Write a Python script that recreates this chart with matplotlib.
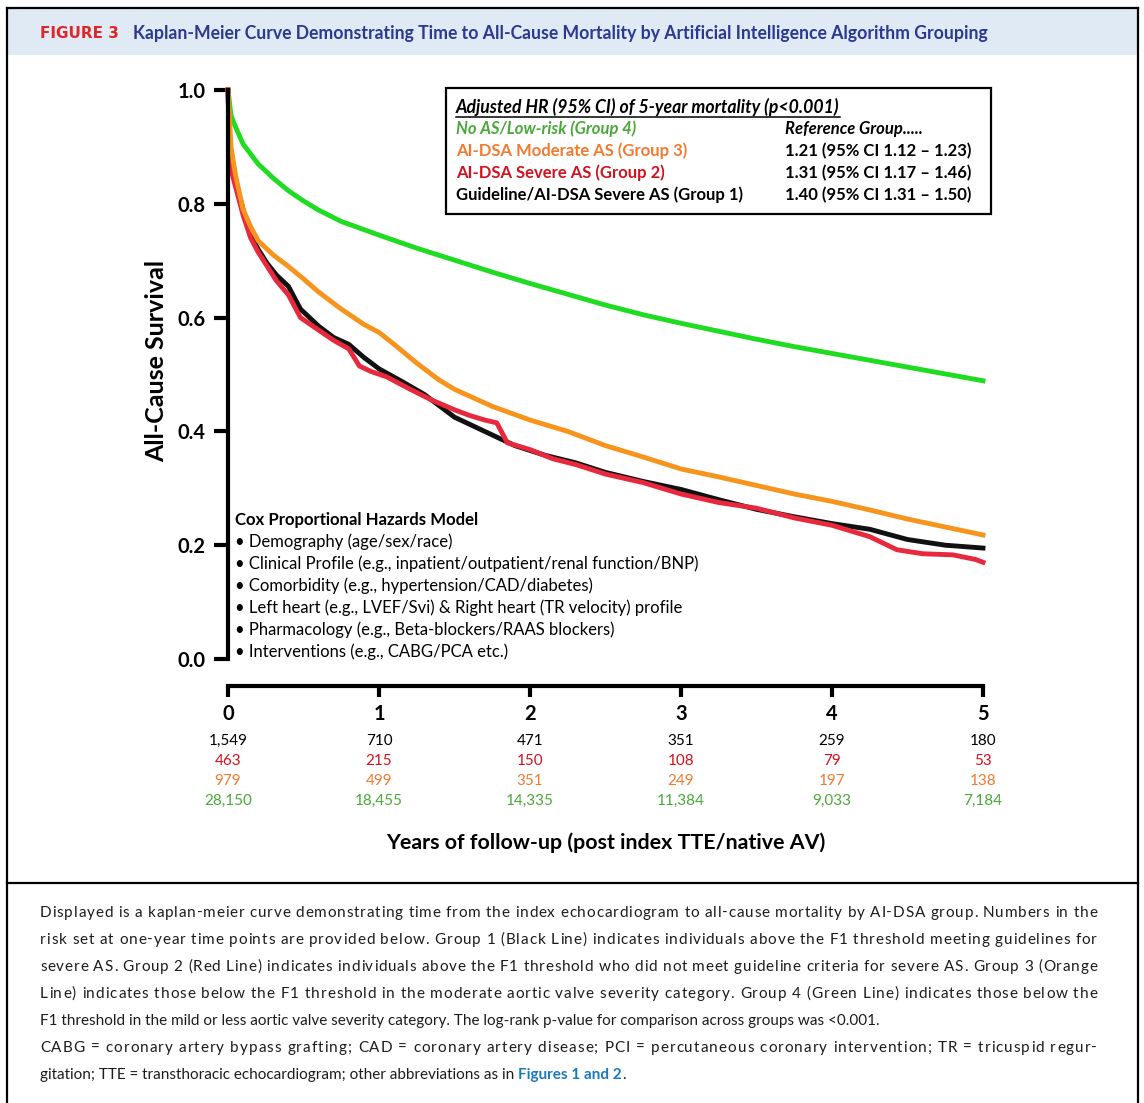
import matplotlib
matplotlib.use("Agg")
from matplotlib import pyplot as plt
from matplotlib.lines import Line2D
from matplotlib.patches import Rectangle
from matplotlib.transforms import blended_transform_factory

W, H = 1144, 1103

# survival curves
green_t = [0, 0.02, 0.05, 0.1, 0.2, 0.3, 0.4, 0.5, 0.6, 0.75, 1.0, 1.25, 1.5, 1.75, 2.0,
           2.25, 2.5, 2.75, 3.0, 3.25, 3.5, 3.75, 4.0, 4.25, 4.5, 4.75, 5.0]
green_s = [1.0, 0.955, 0.935, 0.905, 0.87, 0.845, 0.823, 0.805, 0.789, 0.769, 0.745, 0.722,
           0.701, 0.680, 0.660, 0.641, 0.622, 0.605, 0.590, 0.576, 0.562, 0.549, 0.537,
           0.525, 0.513, 0.501, 0.489]

orange_t = [0, 0.02, 0.05, 0.1, 0.15, 0.2, 0.3, 0.4, 0.5, 0.6, 0.75, 0.9, 1.0, 1.1,
            1.25, 1.4, 1.5, 1.75, 2.0, 2.25, 2.5, 2.75, 3.0, 3.25, 3.5, 3.75, 4.0, 4.25,
            4.5, 4.75, 5.0]
orange_s = [1.0, 0.90, 0.85, 0.79, 0.76, 0.735, 0.71, 0.69, 0.668, 0.645, 0.615, 0.588,
            0.574, 0.553, 0.52, 0.49, 0.474, 0.444, 0.42, 0.40, 0.375, 0.355, 0.334, 0.32,
            0.305, 0.29, 0.277, 0.262, 0.246, 0.232, 0.218]

black_t = [0, 0.01, 0.03, 0.06, 0.1, 0.15, 0.2, 0.26, 0.32, 0.4, 0.48, 0.6, 0.7, 0.8,
           0.9, 1.0, 1.15, 1.3, 1.5, 1.7, 1.9, 2.1, 2.3, 2.5, 2.75, 3.0, 3.25, 3.5, 3.75,
           4.0, 4.25, 4.5, 4.75, 5.0]
black_s = [1.0, 0.90, 0.86, 0.83, 0.79, 0.745, 0.72, 0.695, 0.675, 0.655, 0.615, 0.585,
           0.565, 0.553, 0.53, 0.51, 0.488, 0.465, 0.425, 0.40, 0.375, 0.358, 0.345, 0.328,
           0.312, 0.298, 0.28, 0.263, 0.25, 0.238, 0.228, 0.21, 0.2, 0.195]

red_t = [0, 0.01, 0.03, 0.06, 0.1, 0.15, 0.2, 0.26, 0.32, 0.4, 0.48, 0.6, 0.7, 0.8, 0.87,
         0.95, 1.05, 1.2, 1.35, 1.5, 1.6, 1.7, 1.78, 1.85, 2.0, 2.15, 2.3, 2.5, 2.75, 3.0,
         3.25, 3.5, 3.75, 4.0, 4.25, 4.43, 4.6, 4.8, 4.95, 5.0]
red_s = [1.0, 0.89, 0.85, 0.82, 0.78, 0.74, 0.715, 0.69, 0.665, 0.64, 0.60, 0.578, 0.56,
         0.545, 0.515, 0.505, 0.496, 0.475, 0.455, 0.438, 0.428, 0.42, 0.415, 0.38, 0.368,
         0.352, 0.342, 0.325, 0.31, 0.29, 0.275, 0.265, 0.248, 0.235, 0.215, 0.192, 0.185,
         0.183, 0.175, 0.17]

# numbers at risk
years = [0, 1, 2, 3, 4, 5]
risk_black = ['1,549', '710', '471', '351', '259', '180']
risk_red = ['463', '215', '150', '108', '79', '53']
risk_orange = ['979', '499', '351', '249', '197', '138']
risk_green = ['28,150', '18,455', '14,335', '11,384', '9,033', '7,184']

hr_labels = ['No AS/Low-risk (Group 4)', 'AI-DSA Moderate AS (Group 3)',
             'AI-DSA Severe AS (Group 2)', 'Guideline/AI-DSA Severe AS (Group 1)']
hr_values = ['Reference Group.....', '1.21 (95% CI 1.12 \u2013 1.23)',
             '1.31 (95% CI 1.17 \u2013 1.46)', '1.40 (95% CI 1.31 \u2013 1.50)']

cox_items = ['Demography (age/sex/race)',
             'Clinical Profile (e.g., inpatient/outpatient/renal function/BNP)',
             'Comorbidity (e.g., hypertension/CAD/diabetes)',
             'Left heart (e.g., LVEF/Svi) & Right heart (TR velocity) profile',
             'Pharmacology (e.g., Beta-blockers/RAAS blockers)',
             'Interventions (e.g., CABG/PCA etc.)']

caption = [
    ('Displayed is a kaplan-meier curve demonstrating time from the index echocardiogram to all-cause mortality by AI-DSA group. Numbers in the', True),
    ('risk set at one-year time points are provided below. Group 1 (Black Line) indicates individuals above the F1 threshold meeting guidelines for', True),
    ('severe AS. Group 2 (Red Line) indicates individuals above the F1 threshold who did not meet guideline criteria for severe AS. Group 3 (Orange', True),
    ('Line) indicates those below the F1 threshold in the moderate aortic valve severity category. Group 4 (Green Line) indicates those below the', True),
    ('F1 threshold in the mild or less aortic valve severity category. The log-rank p-value for comparison across groups was <0.001.', False),
    ('CABG = coronary artery bypass grafting; CAD = coronary artery disease; PCI = percutaneous coronary intervention; TR = tricuspid regur-', True),
]
caption_last = 'gitation; TTE = transthoracic echocardiogram; other abbreviations as in '
caption_link = 'Figures 1 and 2'

c_green, c_orange, c_red, c_black = '#1fdc22', '#f7941d', '#e8283c', '#111111'
t_green, t_orange, t_red = '#4aa83a', '#f07a30', '#d0121f'

plt.rcParams['font.family'] = ['Lato', 'DejaVu Sans']


def fx(x):
    return x / W


def fy(y):
    return 1 - y / H


fig = plt.figure(figsize=(W / 100, H / 100), dpi=100)

# frame, header band
fig.add_artist(Rectangle((fx(8), fy(55)), fx(1137) - fx(8), fy(9) - fy(55),
                         transform=fig.transFigure, facecolor='#dfeaf5', edgecolor='none'))
for xs, ys in [([7, 7], [8, 1103]), ([1138, 1138], [8, 1103]), ([7, 1138], [8, 8]),
               ([7, 1138], [883, 883])]:
    fig.add_artist(Line2D([fx(v) for v in xs], [fy(v) for v in ys], transform=fig.transFigure,
                          color='black', lw=1.6))
fig.text(fx(40), fy(33), 'FIGURE 3', color='#e0262b', fontsize=11, fontweight='bold',
         family='DejaVu Sans', va='center')
fig.text(fx(133), fy(33), 'Kaplan-Meier Curve Demonstrating Time to All-Cause Mortality by '
         'Artificial Intelligence Algorithm Grouping', color='#2b3990', fontsize=12.7,
         fontweight='bold', va='center')

ax = fig.add_axes([fx(228), fy(659), fx(983) - fx(228), fy(90) - fy(659)])
ax.set_xlim(0, 5)
ax.set_ylim(0, 1)
for t, s, c in [(green_t, green_s, c_green), (black_t, black_s, c_black),
                (red_t, red_s, c_red), (orange_t, orange_s, c_orange)]:
    ax.plot(t, s, color=c, lw=3.5, clip_on=False, solid_joinstyle='round')

for side in ['top', 'right']:
    ax.spines[side].set_visible(False)
ax.spines['left'].set_linewidth(3)
ax.spines['bottom'].set_linewidth(3)
ax.spines['bottom'].set_position(('outward', 19.5))
ax.spines['left'].set_capstyle('projecting')
ax.set_yticks([0, 0.2, 0.4, 0.6, 0.8, 1.0])
ax.set_yticklabels(['0.0', '0.2', '0.4', '0.6', '0.8', '1.0'])
ax.set_xticks(years)
ax.set_xticklabels([str(y) for y in years])
ax.tick_params(axis='y', length=10, width=3, labelsize=14.5, pad=6)
ax.tick_params(axis='x', length=8, width=3, labelsize=14.5, pad=5)
for lab in ax.get_xticklabels() + ax.get_yticklabels():
    lab.set_fontweight('bold')
fig.text(fx(157), fy(361), 'All-Cause Survival', fontsize=18, fontweight='bold',
         rotation=90, ha='center', va='center')

# numbers at risk
tr = blended_transform_factory(ax.transData, fig.transFigure)
for row, col, y in [(risk_black, 'black', 741), (risk_red, t_red, 761),
                    (risk_orange, t_orange, 781), (risk_green, t_green, 801)]:
    for yr, v in zip(years, row):
        ax.text(yr, fy(y), v, transform=tr, ha='center', va='center', fontsize=11,
                color=col, clip_on=False)
fig.text(fx(606), fy(843), 'Years of follow-up (post index TTE/native AV)', fontsize=15.4,
         fontweight='bold', ha='center', va='center')

# hazard ratio box
fig.add_artist(Rectangle((fx(446), fy(214)), fx(991) - fx(446), fy(88) - fy(214),
                         transform=fig.transFigure, facecolor='white', edgecolor='black',
                         lw=1.6, zorder=5))
hdr = fig.text(fx(456), fy(107), 'Adjusted HR (95% CI) of 5-year mortality (p<0.001)',
               fontsize=12.7, fontweight='bold', style='italic', va='center', zorder=6)
fig.canvas.draw()
renderer = fig.canvas.get_renderer()
bb = hdr.get_window_extent(renderer)
fig.add_artist(Line2D([bb.x0 / W, bb.x1 / W], [fy(117), fy(117)], transform=fig.transFigure,
                      color='black', lw=1.1, zorder=6))
for i, (lab, val, col) in enumerate(zip(hr_labels, hr_values, [t_green, t_orange, t_red, 'black'])):
    y = 129 + 22 * i
    fig.text(fx(456), fy(y), lab, fontsize=12, fontweight='bold', color=col, va='center',
             style='italic' if i == 0 else 'normal', zorder=6)
    fig.text(fx(785), fy(y), val, fontsize=12, fontweight='bold', va='center',
             style='italic' if i == 0 else 'normal', zorder=6)

# cox model text
fig.text(fx(235), fy(520), 'Cox Proportional Hazards Model', fontsize=12.1, fontweight='bold',
         va='center')
for i, item in enumerate(cox_items):
    fig.text(fx(235), fy(542 + 22 * i), '\u2022 ' + item, fontsize=12, va='center')

# caption, justified like the journal layout (extra room spread over every glyph gap)
cap_fs = 11
cap_col = '#1c1c1c'
left, right = 40, 1097


def char_width(c, cache={}):
    if c not in cache:
        if c == ' ':
            a = fig.text(0, 0, 'a a', fontsize=cap_fs)
            b = fig.text(0, 0, 'aa', fontsize=cap_fs)
            cache[c] = a.get_window_extent(renderer).width - b.get_window_extent(renderer).width
            a.remove()
            b.remove()
        else:
            a = fig.text(0, 0, c, fontsize=cap_fs)
            cache[c] = a.get_window_extent(renderer).width
            a.remove()
    return cache[c]


for i, (line, justify) in enumerate(caption):
    y = fy(913 + 27 * i)
    if not justify:
        fig.text(fx(left), y, line, fontsize=cap_fs, va='center', color=cap_col)
        continue
    widths = [char_width(c) for c in line]
    track = (right - left - sum(widths)) / (len(line) - 1)
    x = left
    for c, w in zip(line, widths):
        if c != ' ':
            fig.text(fx(x), y, c, fontsize=cap_fs, va='center', color=cap_col)
        x += w + track
y = fy(913 + 27 * len(caption))
t1 = fig.text(fx(left), y, caption_last, fontsize=cap_fs, va='center', color=cap_col)
x1 = left + t1.get_window_extent(renderer).width
t2 = fig.text(fx(x1), y, caption_link, fontsize=cap_fs, va='center', color='#1a7ab8',
              fontweight='bold')
x2 = x1 + t2.get_window_extent(renderer).width
fig.text(fx(x2), y, '.', fontsize=cap_fs, va='center', color=cap_col)

fig.savefig('out.png', dpi=100)
